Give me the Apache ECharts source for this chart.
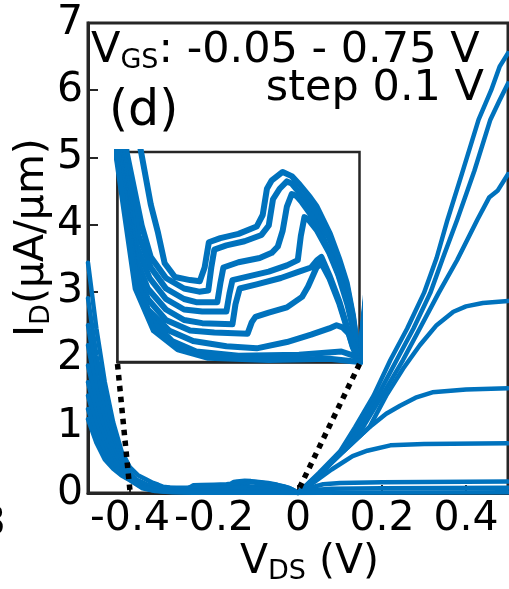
<!DOCTYPE html>
<html><head><meta charset="utf-8">
<script src="https://cdn.jsdelivr.net/npm/echarts@6/dist/echarts.min.js"></script>
<style>html,body{margin:0;padding:0;background:#fff}#c{width:509px;height:589px}</style>
</head><body><div id="c"></div>
<script>
// ---- data ----
const xTicks = [-0.4, -0.2, 0, 0.2, 0.4];
const yTicks = [0, 1, 2, 3, 4, 5, 6, 7];
const vgsValues = [0.75, 0.65, 0.55, 0.45, 0.35, 0.25, 0.15, 0.05, -0.05];

const c075 = [[-0.5,3.43],[-0.48,2.45],[-0.46,1.65],[-0.44,1.05],[-0.42,0.62],[-0.4,0.38],[-0.38,0.26],
 [-0.361,0.2],[-0.345,0.15],[-0.333,0.123],[-0.322,0.094],[-0.305,0.081],[-0.28,0.078],[-0.264,0.077],[-0.256,0.09],[-0.249,0.114],[-0.23,0.118],[-0.2,0.122],[-0.17,0.129],[-0.16,0.14],[-0.153,0.165],[-0.145,0.173],[-0.127,0.181],[-0.112,0.177],[-0.099,0.169],[-0.082,0.157],[-0.071,0.148],[-0.049,0.122],[-0.033,0.097],[-0.021,0.075],[-0.011,0.045],[-0.005,0.02],[0,0],
 [0.05,0.3],[0.1,0.62],[0.136,0.98],[0.18,1.45],[0.22,1.98],[0.26,2.45],[0.3,2.98],[0.33,3.5],[0.356,4.07],[0.39,4.75],[0.43,5.56],[0.46,6.0],[0.48,6.35],[0.5,6.55]];
const c065 = [[-0.5,2.9],[-0.48,2.05],[-0.46,1.4],[-0.44,0.9],[-0.42,0.52],[-0.4,0.3],
 [-0.385,0.2],[-0.36,0.13],[-0.345,0.1],[-0.32,0.08],[-0.29,0.07],[-0.265,0.067],[-0.25,0.068],[-0.245,0.09],[-0.24,0.107],[-0.22,0.111],[-0.19,0.115],[-0.162,0.121],[-0.15,0.13],[-0.143,0.155],[-0.132,0.165],[-0.12,0.172],[-0.112,0.17],[-0.102,0.163],[-0.09,0.155],[-0.075,0.143],[-0.05,0.118],[-0.033,0.094],[-0.021,0.072],[-0.011,0.043],[-0.005,0.019],[0,0],
 [0.05,0.28],[0.1,0.6],[0.145,0.98],[0.19,1.45],[0.235,1.98],[0.275,2.45],[0.315,2.98],[0.345,3.5],[0.379,4.07],[0.42,4.8],[0.458,5.56],[0.48,5.85],[0.5,6.1]];
const c055 = [[-0.5,2.5],[-0.48,1.75],[-0.46,1.2],[-0.44,0.75],[-0.42,0.45],[-0.4,0.27],
 [-0.39,0.2],[-0.365,0.12],[-0.345,0.09],[-0.32,0.07],[-0.29,0.06],[-0.27,0.057],[-0.235,0.057],[-0.23,0.075],[-0.225,0.09],[-0.2,0.095],[-0.165,0.099],[-0.145,0.104],[-0.135,0.11],[-0.127,0.125],[-0.12,0.148],[-0.112,0.16],[-0.104,0.158],[-0.095,0.152],[-0.08,0.14],[-0.06,0.118],[-0.04,0.092],[-0.025,0.068],[-0.012,0.04],[-0.005,0.017],[0,0],
 [0.05,0.27],[0.1,0.58],[0.155,0.98],[0.2,1.45],[0.25,1.98],[0.29,2.45],[0.335,2.98],[0.379,3.47],[0.427,4.07],[0.455,4.4],[0.475,4.5],[0.5,4.75]];
const c045 = [[-0.5,2.2],[-0.48,1.55],[-0.46,1.05],[-0.44,0.66],[-0.42,0.4],[-0.4,0.25],
 [-0.392,0.2],[-0.368,0.11],[-0.347,0.08],[-0.32,0.06],[-0.29,0.05],[-0.26,0.048],[-0.22,0.048],[-0.215,0.065],[-0.21,0.078],[-0.18,0.082],[-0.15,0.086],[-0.12,0.092],[-0.102,0.097],[-0.097,0.12],[-0.091,0.138],[-0.085,0.136],[-0.07,0.125],[-0.05,0.104],[-0.035,0.083],[-0.02,0.055],[-0.01,0.03],[0,0],
 [0.05,0.27],[0.1,0.57],[0.17,0.98],[0.21,1.45],[0.25,1.85],[0.29,2.2],[0.33,2.5],[0.37,2.7],[0.4,2.78],[0.44,2.83],[0.5,2.86]];
const c035 = [[-0.5,1.9],[-0.48,1.35],[-0.46,0.9],[-0.44,0.58],[-0.42,0.36],[-0.4,0.235],
 [-0.395,0.2],[-0.37,0.1],[-0.35,0.07],[-0.32,0.05],[-0.29,0.04],[-0.26,0.037],[-0.21,0.036],[-0.205,0.055],[-0.198,0.07],[-0.17,0.074],[-0.13,0.08],[-0.1,0.086],[-0.08,0.09],[-0.07,0.097],[-0.063,0.1],[-0.05,0.083],[-0.033,0.057],[-0.02,0.032],[-0.011,0.015],[0,0],
 [0.05,0.27],[0.1,0.57],[0.17,0.98],[0.21,1.18],[0.243,1.3],[0.28,1.42],[0.32,1.5],[0.4,1.54],[0.5,1.56]];
const c025 = [[-0.5,1.65],[-0.48,1.15],[-0.46,0.78],[-0.44,0.51],[-0.42,0.32],[-0.4,0.22],
 [-0.397,0.2],[-0.372,0.095],[-0.35,0.06],[-0.32,0.04],[-0.28,0.03],[-0.24,0.028],[-0.185,0.027],[-0.178,0.038],[-0.172,0.043],[-0.15,0.047],[-0.12,0.052],[-0.095,0.062],[-0.085,0.072],[-0.071,0.09],[-0.063,0.094],[-0.05,0.08],[-0.033,0.055],[-0.02,0.031],[-0.011,0.014],[0,0],
 [0.04,0.17],[0.08,0.35],[0.13,0.55],[0.165,0.63],[0.22,0.71],[0.3,0.73],[0.5,0.74]];
const c015 = [[-0.5,1.45],[-0.48,1.0],[-0.46,0.68],[-0.44,0.45],[-0.42,0.29],[-0.4,0.21],
 [-0.372,0.09],[-0.35,0.05],[-0.315,0.03],[-0.275,0.02],[-0.22,0.015],[-0.17,0.013],[-0.12,0.019],[-0.08,0.026],[-0.05,0.032],[-0.038,0.035],[-0.028,0.033],[-0.016,0.026],[-0.006,0.012],[0,0],
 [0.03,0.08],[0.06,0.13],[0.1,0.15],[0.2,0.16],[0.5,0.17]];
const c005 = [[-0.5,1.25],[-0.48,0.87],[-0.46,0.6],[-0.44,0.4],[-0.42,0.27],[-0.4,0.2],
 [-0.37,0.08],[-0.345,0.04],[-0.31,0.02],[-0.27,0.01],[-0.2,0.006],[-0.1,0.007],[-0.03,0.01],[-0.01,0.006],[0,0],
 [0.03,0.04],[0.08,0.065],[0.2,0.07],[0.5,0.08]];
const cm005 = [[-0.5,1.1],[-0.48,0.75],[-0.46,0.5],[-0.44,0.36],[-0.42,0.26],[-0.4,0.19],
 [-0.37,0.07],[-0.34,0.03],[-0.3,0.012],[-0.25,0.004],[-0.15,0.002],[-0.05,0.003],[0,0],
 [0.05,0.005],[0.5,0.01]];
const curves = [c075, c065, c055, c045, c035, c025, c015, c005, cm005];
const insetX = [-0.4, 0];
const insetY = [0, 0.2];

// ---- chart ----
const BLUE = '#0072BD', AX = '#262626', FONT = '"DejaVu Sans"';
const chart = echarts.init(document.getElementById('c'), null, {renderer: 'canvas'});
const series = [];
curves.forEach((d, i) => {
  series.push({type: 'line', name: 'VGS ' + vgsValues[i], xAxisIndex: 0, yAxisIndex: 0, data: d,
    showSymbol: false, symbol: 'none', lineStyle: {color: BLUE, width: 4.5, join: 'round', cap: 'round'}, z: 3, silent: true});
  series.push({type: 'line', name: 'inset ' + vgsValues[i], xAxisIndex: 1, yAxisIndex: 1, data: d,
    showSymbol: false, symbol: 'none', lineStyle: {color: BLUE, width: 6, join: 'round', cap: 'round'}, z: 3, clip: true, silent: true});
});
chart.setOption({
  animation: false,
  backgroundColor: '#fff',
  grid: [
    {left: 88, top: 23, right: 1, bottom: 96, show: true, borderColor: AX, borderWidth: 3,
     backgroundColor: 'transparent', containLabel: false, outerBoundsMode: 'none'},
    {left: 117.5, top: 152, width: 242, height: 210, show: true, borderColor: AX, borderWidth: 2.5,
     backgroundColor: '#fff', containLabel: false, outerBoundsMode: 'none', z: 1}
  ],
  xAxis: [
    {type: 'value', gridIndex: 0, min: -0.5, max: 0.5,
     axisLine: {show: true, onZero: false, lineStyle: {color: AX, width: 3}},
     axisTick: {show: true, inside: true, length: 8, customValues: xTicks, lineStyle: {color: AX, width: 2}},
     axisLabel: {show: true, customValues: xTicks, formatter: v => String(v), fontSize: 41, fontFamily: FONT, color: '#000', margin: 6},
     splitLine: {show: false}},
    {type: 'value', gridIndex: 1, min: insetX[0], max: insetX[1], interval: 0.1,
     axisLine: {show: true, onZero: false, lineStyle: {color: AX, width: 2.5}},
     axisTick: {show: true, inside: true, length: 4, lineStyle: {color: '#888', width: 1}},
     axisLabel: {show: false}, splitLine: {show: false}}
  ],
  yAxis: [
    {type: 'value', gridIndex: 0, min: 0, max: 7, interval: 1,
     axisLine: {show: true, onZero: false, lineStyle: {color: AX, width: 3}},
     axisTick: {show: true, inside: true, length: 10, lineStyle: {color: AX, width: 2}},
     axisLabel: {show: true, formatter: v => String(v), fontSize: 41, fontFamily: FONT, color: '#000', margin: 5},
     splitLine: {show: false}},
    {type: 'value', gridIndex: 1, min: insetY[0], max: insetY[1], interval: 0.05,
     axisLine: {show: true, onZero: false, lineStyle: {color: AX, width: 2.5}},
     axisTick: {show: true, inside: true, length: 4, lineStyle: {color: '#888', width: 1}},
     axisLabel: {show: false}, splitLine: {show: false}}
  ],
  series: series
});

// ---- text & connector graphics ----
const cv = document.createElement('canvas').getContext('2d');
function tw(t, s) { cv.font = s + 'px ' + FONT; return cv.measureText(t).width; }
function midOff(s) { cv.font = s + 'px ' + FONT; cv.textBaseline = 'middle'; return cv.measureText('H').actualBoundingBoxDescent; }
function runText(parts, x0, base) {
  const out = []; let x = x0;
  parts.forEach(p => {
    const [t, s, dy] = p;
    out.push({type: 'text', x: x, y: base + (dy || 0) - midOff(s), z: 50,
      style: {text: t, font: s + 'px ' + FONT, fill: '#000', align: 'left', verticalAlign: 'middle'}});
    x += tw(t, s);
  });
  return out;
}
function runWidth(parts) { return parts.reduce((a, p) => a + tw(p[0], p[1]), 0); }

const g = [];
runText([['V', 43], ['GS', 27, 6], [': -0.05 - 0.75 V', 43]], 91, 62).forEach(e => g.push(e));
const stepParts = [['step 0.1 V', 43]];
runText(stepParts, 484 - runWidth(stepParts), 100).forEach(e => g.push(e));
runText([['(d)', 49]], 109, 125).forEach(e => g.push(e));
runText([['V', 41], ['DS', 27, 6], [' (V)', 41]], 240, 573).forEach(e => g.push(e));
g.push({type: 'group', x: 43, y: 337, rotation: Math.PI / 2,
  children: runText([['I', 41], ['D', 27, 6], ['(\u00b5A/\u00b5m)', 41]], 0, 0)});
runText([['3', 41]], -20, 535).forEach(e => g.push(e));
const pBL = chart.convertToPixel({xAxisIndex: 1, yAxisIndex: 1}, [insetX[0], insetY[0]]);
const pBR = chart.convertToPixel({xAxisIndex: 1, yAxisIndex: 1}, [insetX[1], insetY[0]]);
const mL = chart.convertToPixel({xAxisIndex: 0, yAxisIndex: 0}, [insetX[0], 0]);
const mR = chart.convertToPixel({xAxisIndex: 0, yAxisIndex: 0}, [insetX[1], 0]);
[[pBL, mL], [pBR, mR]].forEach(([a, b]) => g.push({type: 'line', z: 40,
  shape: {x1: a[0], y1: a[1] + 2, x2: b[0], y2: b[1] - 2},
  style: {stroke: '#000', lineWidth: 5.5, lineDash: [5.5, 5.5], lineCap: 'butt'}}));
chart.setOption({graphic: g});
</script>
</body></html>
